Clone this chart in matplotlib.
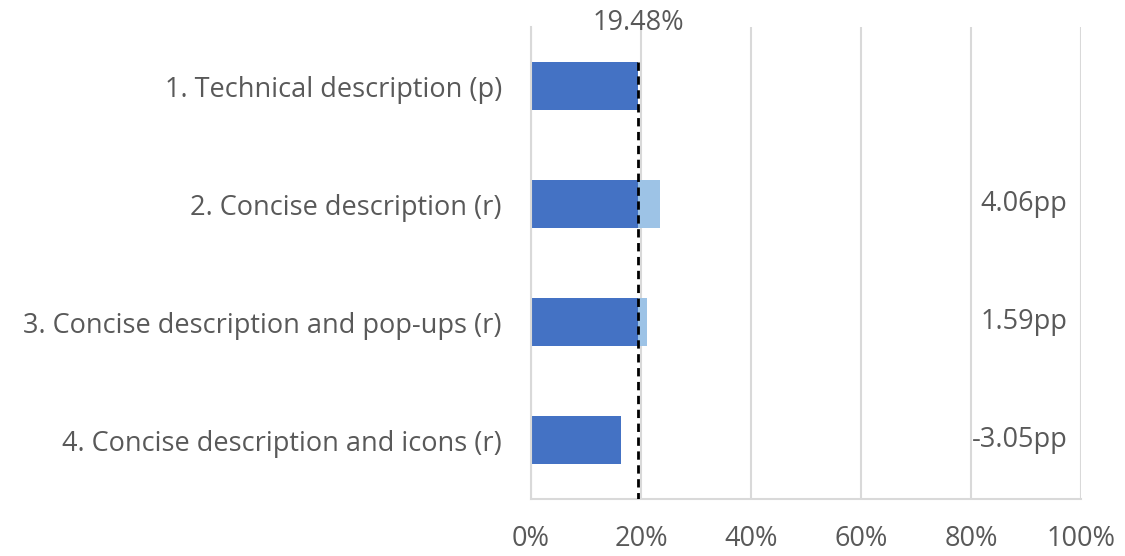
import matplotlib
matplotlib.use("Agg")
import matplotlib.pyplot as plt
import numpy as np

# data
categories = ["1. Technical description (p)",
              "2. Concise description (r)",
              "3. Concise description and pop-ups (r)",
              "4. Concise description and icons (r)"]
baseline = 19.48
deltas = [0.0, 4.06, 1.59, -3.05]
delta_labels = [None, "4.06pp", "1.59pp", "-3.05pp"]
xticks = [0, 20, 40, 60, 80, 100]

DARK = "#4472C4"
LIGHT = "#9DC3E6"
GREY = "#595959"
GRID = "#D9D9D9"
FS = 19.5

plt.rcParams["font.family"] = ["Open Sans", "DejaVu Sans"]

fig = plt.figure(figsize=(11.25, 5.56), dpi=100)
ax = fig.add_axes([0.472, 0.1025, 0.489, 0.8485])

y = np.arange(len(categories))
d = np.array(deltas)
dark = np.minimum(baseline, baseline + d)
light = np.clip(d, 0, None)
h = 0.41
ax.barh(y, dark, height=h, color=DARK, zorder=2)
ax.barh(y, light, left=dark, height=h, color=LIGHT, zorder=2)

ax.vlines(baseline, -h / 2, len(categories) - 0.5, colors="black",
          linestyles=(0, (3.0, 2.0)), lw=2.0, zorder=3)
ax.text(baseline, 1.008, f"{baseline:.2f}%", ha="center", va="center",
        fontsize=FS, color=GREY, transform=ax.get_xaxis_transform())

for yi, lab in zip(y, delta_labels):
    if lab:
        ax.text(97.5, yi, lab, ha="right", va="center", fontsize=FS, color=GREY)

ax.set_xlim(0, 100)
ax.set_ylim(len(categories) - 0.5, -0.5)
ax.set_xticks(xticks)
ax.set_xticklabels([f"{t}%" for t in xticks])
ax.set_yticks(y)
ax.set_yticklabels(categories)
ax.tick_params(axis="both", length=0, labelsize=FS, colors=GREY)
ax.tick_params(axis="x", pad=19)
ax.tick_params(axis="y", pad=21)
ax.grid(axis="x", color=GRID, lw=1.5, zorder=0)
for s in ["top", "right"]:
    ax.spines[s].set_visible(False)
for s in ["left", "bottom"]:
    ax.spines[s].set_color(GRID)
    ax.spines[s].set_linewidth(1.5)

fig.savefig("out.png", dpi=100)
